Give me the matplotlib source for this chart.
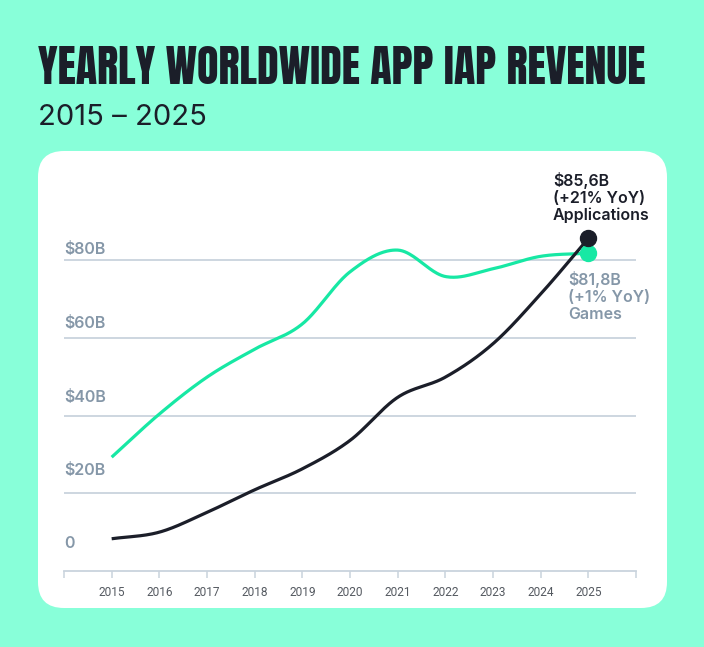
import matplotlib
matplotlib.use("Agg")
import matplotlib.pyplot as plt
from matplotlib.patches import FancyBboxPatch
import numpy as np

# ---------------- data ----------------
years = [2015, 2016, 2017, 2018, 2019, 2020, 2021, 2022, 2023, 2024, 2025]
games = [29.3, 40.4, 49.9, 57.1, 63.6, 77.0, 82.6, 75.8, 77.8, 81.0, 81.8]
applications = [8.3, 10.0, 15.1, 20.9, 26.3, 33.6, 44.7, 49.9, 58.5, 71.3, 85.6]
ytick_values = [0, 20, 40, 60, 80]
ytick_labels = ["0", "$20B", "$40B", "$60B", "$80B"]
title = "YEARLY WORLDWIDE APP IAP REVENUE"
subtitle = "2015 – 2025"
apps_note = "$85,6B\n(+21% YoY)\nApplications"
games_note = "$81,8B\n(+1% YoY)\nGames"

# ---------------- style ----------------
BG = "#88FFD9"
GREEN = "#17E8A4"
DARK = "#1B1E29"
GRID = "#C9D3DD"
LABEL = "#8597A8"
TICK = "#555A61"


def smooth(x, y, n=40):
    """Catmull-Rom style cubic Hermite curve through the points."""
    x = np.asarray(x, float)
    y = np.asarray(y, float)
    m = np.empty_like(y)
    m[1:-1] = (y[2:] - y[:-2]) / (x[2:] - x[:-2])
    m[0] = (y[1] - y[0]) / (x[1] - x[0])
    m[-1] = (y[-1] - y[-2]) / (x[-1] - x[-2])
    xs, ys = [], []
    for i in range(len(x) - 1):
        h = x[i + 1] - x[i]
        t = np.linspace(0, 1, n, endpoint=(i == len(x) - 2))
        h00 = 2 * t**3 - 3 * t**2 + 1
        h10 = t**3 - 2 * t**2 + t
        h01 = -2 * t**3 + 3 * t**2
        h11 = t**3 - t**2
        xs.append(x[i] + t * h)
        ys.append(h00 * y[i] + h10 * h * m[i] + h01 * y[i + 1] + h11 * h * m[i + 1])
    return np.concatenate(xs), np.concatenate(ys)


W, H = 704, 647
fig = plt.figure(figsize=(W / 100, H / 100), dpi=100)
fig.patch.set_facecolor(BG)

# white rounded card
card = FancyBboxPatch((0.38, 0.39), 6.29, 4.57,
                      boxstyle="round,pad=0,rounding_size=0.26",
                      transform=fig.dpi_scale_trans, facecolor="white",
                      edgecolor="none", zorder=-5)
fig.patches.append(card)

# title & subtitle
fig.text(38 / W, 1 - 46 / H, title, ha="left", va="top",
         family=["Anton", "Barlow Condensed", "DejaVu Sans"], weight="bold",
         fontsize=31.8, color=DARK)
fig.text(38 / W, 1 - 104 / H, subtitle, ha="left", va="top",
         family=["Inter", "Roboto", "DejaVu Sans"], fontsize=21, color=DARK)

ax = fig.add_axes([64 / W, 76 / H, 572 / W, 388.5 / H])
ax.set_zorder(2)
ax.set_facecolor("none")
ax.set_xlim(2014, 2026)
ax.set_ylim(0, 100)

for v in ytick_values[1:]:
    ax.axhline(v, color=GRID, lw=1.3, zorder=1)

gx, gy = smooth(years, games)
ax.plot(gx, gy, color=GREEN, lw=2.3, solid_capstyle="butt", zorder=3)
axx, axy = smooth(years, applications)
ax.plot(axx, axy, color=DARK, lw=2.3, solid_capstyle="butt", zorder=4)

ax.plot(years[-1], games[-1], "o", ms=11.5, color=GREEN, zorder=5)
ax.plot(years[-1], applications[-1], "o", ms=11.5, color=DARK, zorder=6)

# y labels sit above their grid lines
label_offsets_pt = [19.5, 16.5, 13.0, 10.5, 8.0]
for v, lab, off in zip(ytick_values, ytick_labels, label_offsets_pt):
    ax.annotate(lab, (2014, v), xytext=(0, off), textcoords="offset points",
                ha="left", va="center", fontsize=11.5, weight="semibold",
                family=["Inter", "Roboto", "DejaVu Sans"], color=LABEL,
                annotation_clip=False)

# end annotations
ax.annotate(apps_note, (years[-1], applications[-1]), xytext=(-25.5, 29.5),
            textcoords="offset points", ha="left", va="center", fontsize=11.5,
            weight="semibold", family=["Inter", "Roboto", "DejaVu Sans"],
            color=DARK, linespacing=1.15, annotation_clip=False)
ax.annotate(games_note, (years[-1], games[-1]), xytext=(-14.5, -31),
            textcoords="offset points", ha="left", va="center", fontsize=11.5,
            weight="semibold", family=["Inter", "Roboto", "DejaVu Sans"],
            color=LABEL, linespacing=1.15, annotation_clip=False)

# axes / ticks
for s in ["top", "right", "left"]:
    ax.spines[s].set_visible(False)
ax.spines["bottom"].set_color(GRID)
ax.spines["bottom"].set_linewidth(1.3)
ax.set_yticks([])
ax.set_xticks(list(range(2014, 2027)))
ax.set_xticklabels([""] + [str(y) for y in years] + [""])
ax.tick_params(axis="x", length=5, width=1.1, color=GRID, pad=6,
               labelsize=8.6, labelcolor=TICK)
for t in ax.get_xticklabels():
    t.set_family(["Roboto", "DejaVu Sans"])

fig.savefig("out.png", dpi=100, facecolor=BG)
